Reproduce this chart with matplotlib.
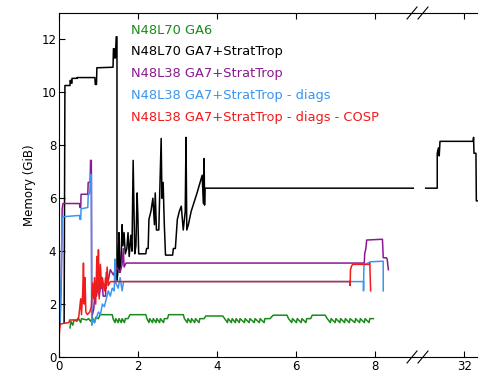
import matplotlib
matplotlib.use("Agg")
import matplotlib.pyplot as plt
from matplotlib.lines import Line2D

# series (x in units of the axis, y in GiB)
ga6_x = [0.28, 0.3, 0.35, 0.38, 0.45, 0.5, 0.55, 0.57, 0.7, 0.75, 0.8, 0.85, 0.9, 0.93, 1.0, 1.04, 1.35,
         1.37, 1.42, 1.44, 1.5, 1.52, 1.58, 1.6, 1.66, 1.68, 1.75, 1.8, 2.2, 2.23, 2.28, 2.3, 2.37, 2.39,
         2.46, 2.48, 2.55, 2.57, 2.65, 2.67, 2.75, 2.78, 3.15, 3.18, 3.25, 3.27, 3.34, 3.36, 3.44, 3.46,
         3.55, 3.57, 3.68, 3.72, 4.15, 4.2, 4.27, 4.29, 4.37, 4.39, 4.47, 4.49, 4.57, 4.59, 4.7, 4.72,
         4.82, 4.84, 4.95, 4.97, 5.08, 5.1, 5.2, 5.22, 5.35, 5.43, 5.78, 5.82, 5.9, 5.92, 6.02, 6.04,
         6.14, 6.16, 6.26, 6.28, 6.38, 6.42, 6.75, 6.8, 6.88, 6.9, 7.0, 7.02, 7.12, 7.14, 7.24, 7.26,
         7.36, 7.38, 7.5, 7.52, 7.62, 7.64, 7.74, 7.76, 7.86, 7.88, 7.97]
ga6_y = [1.1, 1.35, 1.2, 1.4, 1.35, 1.45, 1.3, 1.45, 1.4, 1.45, 1.35, 1.48, 1.3, 1.5, 1.45, 1.6, 1.6,
         1.45, 1.3, 1.45, 1.3, 1.45, 1.3, 1.45, 1.3, 1.45, 1.45, 1.6, 1.6, 1.45, 1.3, 1.45, 1.3, 1.45,
         1.3, 1.45, 1.3, 1.45, 1.3, 1.45, 1.45, 1.6, 1.6, 1.45, 1.3, 1.45, 1.3, 1.45, 1.3, 1.45,
         1.3, 1.45, 1.45, 1.55, 1.55, 1.45, 1.3, 1.45, 1.3, 1.45, 1.3, 1.45, 1.3, 1.45, 1.3, 1.45,
         1.3, 1.45, 1.3, 1.45, 1.3, 1.45, 1.3, 1.45, 1.45, 1.58, 1.58, 1.45, 1.3, 1.45, 1.3, 1.45,
         1.3, 1.45, 1.3, 1.45, 1.45, 1.58, 1.58, 1.45, 1.3, 1.45, 1.3, 1.45, 1.3, 1.45, 1.3, 1.45,
         1.3, 1.45, 1.3, 1.45, 1.3, 1.45, 1.3, 1.45, 1.3, 1.45, 1.45]

l70_x = [0.13, 0.15, 0.28, 0.28, 0.31, 0.31, 0.33, 0.33, 0.46, 0.46, 0.91, 0.92, 0.95, 0.96, 1.37, 1.38,
         1.40, 1.41, 1.43, 1.45, 1.47, 1.47, 1.5, 1.52, 1.54, 1.57, 1.6, 1.62, 1.65, 1.68, 1.72, 1.75,
         1.78, 1.82, 1.85, 1.88, 1.92, 1.95, 1.98, 2.0, 2.02, 2.2, 2.22, 2.26, 2.28, 2.33, 2.38, 2.42,
         2.44, 2.47, 2.53, 2.59, 2.61, 2.64, 2.67, 2.7, 2.88, 2.9, 2.95, 3.0, 3.05, 3.1, 3.15, 3.2,
         3.22, 3.24, 3.28, 3.35, 3.5, 3.63, 3.66, 3.68, 3.69, 3.7, 31.31, 31.31, 31.34, 31.36, 31.38,
         32.22, 32.23, 32.24, 32.29, 32.3, 32.6]
l70_y = [1.3, 10.26, 10.26, 10.45, 10.45, 10.35, 10.35, 10.53, 10.53, 10.56, 10.56, 10.3, 10.3, 10.93,
         10.95, 11.65, 11.65, 11.3, 11.3, 12.1, 12.1, 2.9, 3.3, 4.7, 3.2, 3.6, 5.0, 4.2, 4.7, 3.9, 4.1,
         4.7, 3.8, 4.6, 4.0, 7.43, 3.9, 4.2, 6.2, 5.3, 3.9, 3.9, 4.1, 4.1, 5.2, 5.5, 6.0, 5.0, 6.2,
         4.8, 4.8, 8.26, 6.0, 6.6, 5.0, 3.85, 3.85, 4.1, 4.1, 5.2, 5.5, 5.7, 4.8, 5.5, 8.3, 4.8, 5.0,
         5.5, 6.2, 6.87, 5.8, 7.5, 5.74, 6.38, 6.38, 7.7, 7.9, 7.6, 8.15, 8.15, 8.3, 7.7, 7.7, 5.9, 5.9]

l38_x = [0.03, 0.06, 0.08, 0.1, 0.52, 0.53, 0.55, 0.56, 0.73, 0.74, 0.79, 0.8, 0.82, 0.83, 0.88, 0.92,
         0.95, 1.0, 1.02, 1.08, 1.12, 1.18, 1.2, 1.25, 1.3, 1.38, 1.45, 1.5, 1.55, 1.6, 1.63, 1.65, 1.7,
         7.74, 7.75, 7.78, 7.8, 8.2, 8.22, 8.3, 8.32, 8.35]
l38_y = [1.5, 3.0, 5.6, 5.8, 5.8, 5.65, 5.65, 6.15, 6.15, 6.6, 6.6, 7.43, 7.43, 1.5, 1.8, 2.6,
         2.3, 2.8, 2.3, 3.0, 2.3, 2.3, 3.2, 2.9, 3.3, 3.1, 3.4, 3.3, 3.2, 3.5, 4.1, 3.4, 3.55,
         3.55, 3.9, 4.1, 4.42, 4.45, 3.75, 3.75, 3.7, 3.3]

diag_x = [0.03, 0.06, 0.08, 0.1, 0.52, 0.53, 0.55, 0.56, 0.73, 0.74, 0.78, 0.8, 0.82, 0.83, 0.86, 0.9,
          0.95, 1.0, 1.05, 1.1, 1.15, 1.2, 1.25, 1.3, 1.35, 1.4, 1.42, 1.44, 1.5, 1.55, 1.6, 1.63, 1.65,
          7.72, 7.72, 7.73, 7.76, 7.9, 8.22, 8.22]
diag_y = [1.2, 3.5, 5.2, 5.3, 5.35, 5.2, 5.2, 5.6, 5.65, 6.1, 6.2, 6.9, 6.9, 1.2, 1.4, 1.3,
          1.5, 1.7, 1.6, 2.0, 1.9, 2.2, 2.5, 2.3, 2.6, 2.5, 3.7, 2.8, 2.6, 3.0, 2.5, 2.8, 2.85,
          2.85, 2.5, 3.45, 3.5, 3.6, 3.62, 2.5]

cosp_x = [0.0, 0.02, 0.04, 0.25, 0.27, 0.45, 0.5, 0.55, 0.57, 0.6, 0.62, 0.64, 0.66, 0.68, 0.72, 0.78,
          0.82, 0.85, 0.88, 0.9, 0.93, 0.96, 0.98, 1.0, 1.02, 1.05, 1.08, 1.1, 1.15, 1.18, 1.2, 1.22,
          1.25, 1.3, 7.38, 7.38, 7.39, 7.42, 7.45, 7.86, 7.88, 7.9]
cosp_y = [0.7, 1.1, 1.25, 1.3, 1.4, 1.4, 1.5, 2.2, 1.6, 2.4, 3.55, 2.0, 3.0, 1.7, 1.6, 1.7,
          1.9, 2.8, 2.2, 3.0, 2.0, 3.8, 2.5, 4.05, 2.2, 3.5, 2.6, 3.0, 2.5, 3.0, 2.6, 3.4,
          2.7, 2.85, 2.85, 2.7, 3.3, 3.45, 3.5, 3.5, 3.55, 2.5]

labels = ["N48L70 GA6", "N48L70 GA7+StratTrop", "N48L38 GA7+StratTrop",
          "N48L38 GA7+StratTrop - diags", "N48L38 GA7+StratTrop - diags - COSP"]
colors = ["#1a8a1a", "black", "#8a1a8f", "#3a96f0", "#f01c1c"]
series = [(ga6_x, ga6_y), (l70_x, l70_y), (l38_x, l38_y), (diag_x, diag_y), (cosp_x, cosp_y)]

W, H = 478, 373
fig = plt.figure(figsize=(W / 100, H / 100), dpi=100)
bot, top = (H - 357) / H, (H - 13) / H
ax1 = fig.add_axes([59 / W, bot, (414 - 59) / W, top - bot])
ax2 = fig.add_axes([425 / W, bot, (502 - 425) / W, top - bot])

for ax in (ax1, ax2):
    for (x, y), c in zip(series, colors):
        ax.plot(x, y, color=c, lw=1.1)
    ax.set_ylim(0, 13)
    ax.tick_params(direction='in', top=True, labelsize=8.5, length=4, pad=2)

ax1.set_xlim(0, 9)
ax1.set_xticks([0, 2, 4, 6, 8])
ax1.set_yticks([0, 2, 4, 6, 8, 10, 12])
ax1.spines['right'].set_visible(False)
ax1.set_ylabel('Memory (GiB)', fontsize=8.5)

ax2.set_xlim(31, 32.95)
ax2.set_xticks([32])
ax2.set_yticks([])
ax2.spines['left'].set_visible(False)

# axis break marks
for yb in (bot, top):
    fig.add_artist(Line2D([414 / W, 425 / W], [yb, yb], color='black', lw=0.8))
    for xc in (412, 423):
        fig.add_artist(Line2D([(xc - 5) / W, (xc + 5) / W], [yb - 6 / H, yb + 6 / H],
                              color='black', lw=0.8))

ys = [30, 52, 74, 96, 118]
for lab, c, yp in zip(labels, colors, ys):
    fig.text(131 / W, (H - yp) / H, lab, color=c, fontsize=9.4, va='center', ha='left')

fig.savefig('out.png', dpi=100)
